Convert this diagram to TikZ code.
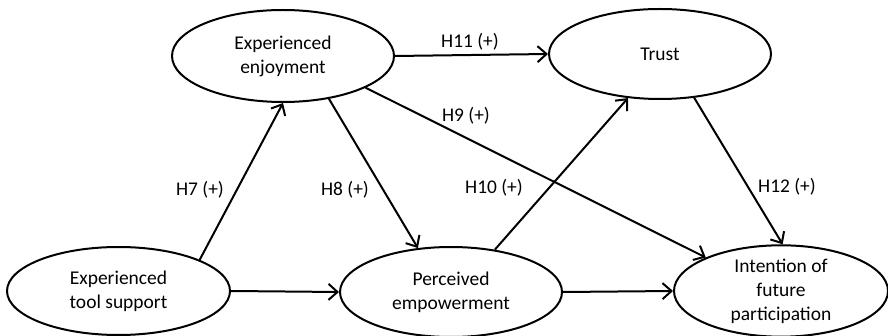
\documentclass[tikz,border=0pt]{standalone}
\usepackage{fontspec}
\setmainfont{Carlito}
\usetikzlibrary{arrows.meta,shapes.geometric}
\begin{document}
\begin{tikzpicture}[x=1pt,y=-1pt,
  construct/.style={ellipse, draw, line width=2pt, inner sep=0pt, align=center,
    font=\fontsize{19.5}{24}\selectfont},
  link/.style={line width=2pt,
    -{Straight Barb[length=9pt,width=16pt,line width=2pt]}},
  hyp/.style={inner sep=1pt, font=\fontsize{19.4}{24}\selectfont}
]
\useasboundingbox (0,0) rectangle (888,336);

% constructs
\node[construct, minimum width=222pt, minimum height=92pt] (ee)  at (283,56)    {Experienced\\enjoyment};
\node[construct, minimum width=223pt, minimum height=88pt] (ets) at (118.5,291) {Experienced\\tool support};
\node[construct, minimum width=222pt, minimum height=90pt] (pe)  at (451,292)   {Perceived\\empowerment};
\node[construct, minimum width=222pt, minimum height=90pt] (tr)  at (660,54)    {Trust};
\node[construct, minimum width=214pt, minimum height=88pt] (ifp) at (781,291)   {Intention of\\future\\participation};

% hypothesised paths
\draw[link] (ee.east)   -- (tr.west);
\draw[link] (ee.-43.7)  -- (pe.127.9);
\draw[link] (ee.-21.6)  -- (ifp.156.2);
\draw[link] (ets.21.8)  -- (ee.south);
\draw[link] (ets.east)  -- (pe.west);
\draw[link] (pe.44.4)   -- (tr.234.4);
\draw[link] (pe.east)   -- (ifp.west);
\draw[link] (tr.-52.1)  -- (ifp.88);

% path labels
\node[hyp] (h11) at (470,42)  {H11 (+)};
\node[hyp] (h9)  at (466,116) {H9 (+)};
\node[hyp] (h7)  at (200,190) {H7 (+)};
\node[hyp] (h8)  at (345,190) {H8 (+)};
\node[hyp] (h10) at (494,188) {H10 (+)};
\node[hyp] (h12) at (787,187) {H12 (+)};
\end{tikzpicture}
\end{document}
